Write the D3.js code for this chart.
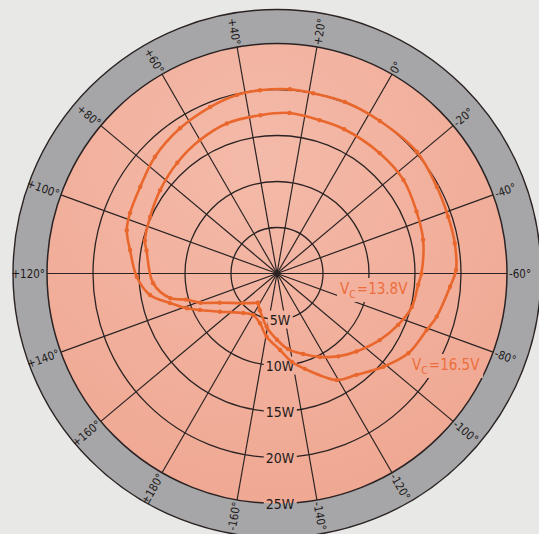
<!DOCTYPE html>
<html><head><meta charset="utf-8">
<script src="https://cdn.jsdelivr.net/npm/d3@7"></script>
<style>
html,body{margin:0;padding:0;background:#e8e8e6;}
svg{display:block;}
</style></head><body>
<svg id="chart" width="539" height="534"></svg>
<script>
// ---- data ----
const phaseTicks = [20,40,60,80,100,120,140,160,180,-160,-140,-120,-100,-80,-60,-40,-20,0];
const phaseTickLabels = ["+20°","+40°","+60°","+80°","+100°","+120°","+140°","+160°","±180°","-160°","-140°","-120°","-100°","-80°","-60°","-40°","-20°","0°"];
const powerTicks = [5,10,15,20,25];
const powerTickLabels = ["5W","10W","15W","20W","25W"];
const seriesLabels = ["13.8V","16.5V"];

// V_C = 13.8 V (phase in degrees, power in W)
const phase138 = [177,161,147,141,136,133,124.5,110,106,96,84.5,72,60,48.5,36,25.5,14.5,5,-10.5,-23.5,-36,-47,-60,-64.5,-74,-83,-93,-104.5,-113.5,-122.75,-132,-141.7,-150,-161,-175,177];
const power138 = [3.8,4.9,7.0,8.9,10.3,11.9,13.5,14.4,14.8,15.1,15.6,16.2,16.75,17.2,17.3,17.5,17.3,17.3,17.2,17.1,16.6,16.3,15.7,15.4,15.1,14.3,13.3,12.1,11.2,10.2,9.2,8.3,7.2,5.9,4.4,3.8];

// V_C = 16.5 V
const phase165 = [-179.7,169.5,153.8,145.4,141.1,135.4,129.6,121.3,110.9,103.9,97.6,87.6,76.25,63.75,51.9,42.7,35.3,26,18.6,8.4,-4,-18.9,-31.5,-41.65,-50.4,-58.9,-64.4,-75.1,-80.7,-91.3,-101.25,-111.9,-120.7,-133.7,-140.4,-147.75,-159.3,-168.85];
const power165 = [5.2,5.64,7.46,9.26,10.5,12.07,14.0,15.25,16.18,17.0,17.28,17.6,18.36,18.98,19.5,19.9,20.0,20.07,19.98,20.05,20.0,20.15,19.76,19.6,19.6,19.46,18.86,17.98,17.39,16.7,15.37,14.0,13.27,10.8,9.76,8.32,6.96,5.72];

// ---- layout / style ----
const W = 539, H = 534;
const cx = 277, cy = 273.5, rDisc = 230, rOuter = 264;
const grey = "#a6a6a8", ink = "#2b2323", orange = "#e9672c";
const font = "'Liberation Sans Narrow','DejaVu Sans Condensed','Liberation Sans',sans-serif";

const svg = d3.select("#chart");
const defs = svg.append("defs");
const grad = defs.append("radialGradient").attr("id", "sal")
  .attr("cx", "45%").attr("cy", "25%").attr("r", "80%");
grad.append("stop").attr("offset", "0%").attr("stop-color", "#f4baa9");
grad.append("stop").attr("offset", "100%").attr("stop-color", "#efa791");
const mask = defs.append("mask").attr("id", "knock").attr("maskUnits", "userSpaceOnUse")
  .attr("x", -cx).attr("y", -cy).attr("width", W).attr("height", H);
mask.append("rect").attr("x", -cx).attr("y", -cy).attr("width", W).attr("height", H).attr("fill", "white");

const g = svg.append("g").attr("transform", `translate(${cx},${cy})`);

const rScale = d3.scaleLinear().domain([0, 25]).range([0, rDisc]);
// chart phase -> compass bearing (deg, clockwise from up): 0° sits at 30°, positive phase counter-clockwise
const aScale = d3.scaleLinear().domain([-180, 180]).range([210, -150]);
const rad = d => d * Math.PI / 180;

// grey ring + disc
g.append("circle").attr("r", rOuter).attr("fill", grey).attr("stroke", ink).attr("stroke-width", 1.4);
g.append("circle").attr("r", rDisc).attr("fill", "url(#sal)");

const grid = g.append("g").attr("mask", "url(#knock)");
// spokes
grid.selectAll("line.spoke").data(phaseTicks).join("line").attr("class", "spoke")
  .attr("x1", 0).attr("y1", 0)
  .attr("x2", d => rDisc * Math.sin(rad(aScale(d))))
  .attr("y2", d => -rDisc * Math.cos(rad(aScale(d))))
  .attr("stroke", ink).attr("stroke-width", 1.2);
// power circles
grid.selectAll("circle.pc").data(powerTicks).join("circle").attr("class", "pc")
  .attr("r", d => rScale(d)).attr("fill", "none").attr("stroke", ink)
  .attr("stroke-width", d => d === 25 ? 1.5 : 1.3);
g.append("circle").attr("r", 2.5).attr("fill", ink);

// phase labels in the ring
const rText = rDisc + 2;
phaseTicks.forEach((t, i) => {
  const b = aScale(t);
  const bn = ((b % 360) + 360) % 360;
  const right = bn < 180;
  const x = rText * Math.sin(rad(b)), y = -rText * Math.cos(rad(b));
  g.append("text")
    .attr("transform", `translate(${x},${y}) rotate(${right ? bn - 90 : bn + 90})`)
    .attr("text-anchor", right ? "start" : "end")
    .attr("dominant-baseline", "central")
    .attr("font-family", font).attr("font-size", 11.5).attr("fill", "#1e1a1a")
    .text(phaseTickLabels[i]);
});

function knock(sel, pad) {
  const bb = sel.node().getBBox();
  mask.append("rect").attr("x", bb.x - pad).attr("y", bb.y - pad + 1)
    .attr("width", bb.width + 2 * pad).attr("height", bb.height + 2 * pad - 2).attr("fill", "black");
}

// power labels
powerTicks.forEach((p, i) => {
  const t = g.append("text").attr("x", 3).attr("y", rScale(p))
    .attr("text-anchor", "middle").attr("dominant-baseline", "central")
    .attr("font-family", font).attr("font-size", 14).attr("fill", "#1e1a1a")
    .text(powerTickLabels[i]);
  knock(t, 2);
});

// curves
const toPts = (ph, pw) => ph.map((a, i) => ({a: rad(aScale(a)), r: rScale(pw[i])}));
const pts138 = toPts(phase138, power138);
const pts165 = toPts(phase165, power165);
const lineOpen = d3.lineRadial().angle(d => d.a).radius(d => d.r).curve(d3.curveCatmullRom.alpha(0.5));
const lineClosed = d3.lineRadial().angle(d => d.a).radius(d => d.r).curve(d3.curveCatmullRomClosed.alpha(0.5));
g.append("path").attr("d", lineOpen(pts138)).attr("fill", "none").attr("stroke", orange)
  .attr("stroke-width", 2.6).attr("stroke-linejoin", "round");
g.append("path").attr("d", lineClosed(pts165)).attr("fill", "none").attr("stroke", orange)
  .attr("stroke-width", 2.6).attr("stroke-linejoin", "round");
[pts138, pts165].forEach(pts => {
  g.append("g").selectAll("circle").data(pts).join("circle")
    .attr("cx", d => d.r * Math.sin(d.a)).attr("cy", d => -d.r * Math.cos(d.a))
    .attr("r", 2.2).attr("fill", orange);
});

// series labels
function seriesLabel(x, y, val) {
  const t = g.append("text").attr("x", x - cx).attr("y", y - cy)
    .attr("font-family", font).attr("font-size", 15).attr("fill", "#ec6e3c");
  t.append("tspan").text("V");
  t.append("tspan").attr("font-size", 10.5).attr("dy", 4).text("C");
  t.append("tspan").attr("dy", -4).attr("dx", 1).text("=" + val);
  knock(t, 3);
}
seriesLabel(340, 294, seriesLabels[0]);
seriesLabel(412, 370, seriesLabels[1]);
</script>
</body></html>
